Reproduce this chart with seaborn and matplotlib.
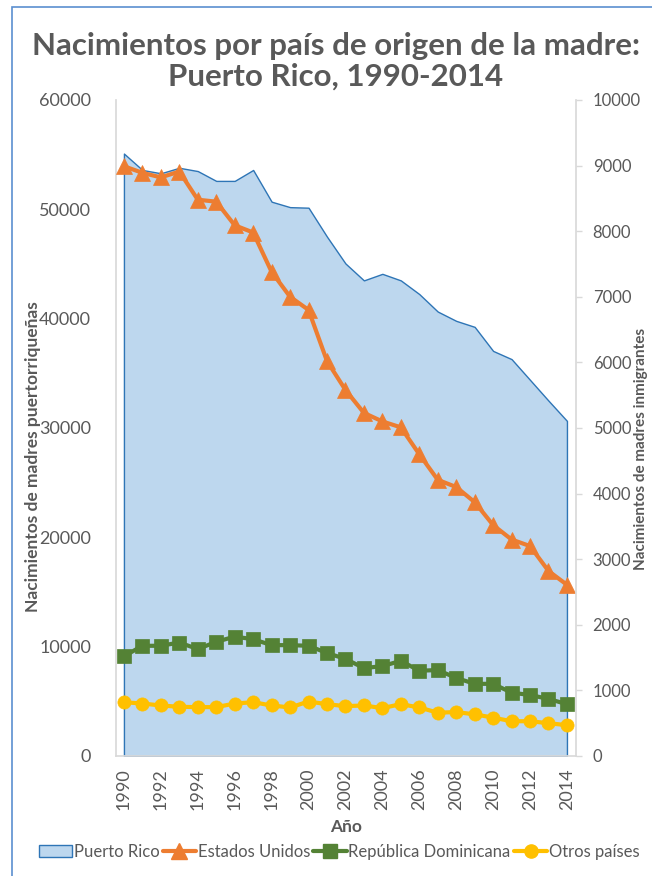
import matplotlib
matplotlib.use("Agg")
import matplotlib.pyplot as plt
import seaborn as sns
import pandas as pd
from matplotlib.patches import Patch, Rectangle
from matplotlib.lines import Line2D

years = list(range(1990, 2015))
puerto_rico = [55100, 53600, 53300, 53800, 53500, 52600, 52600, 53600, 50700, 50200,
               50150, 47500, 45050, 43500, 44100, 43500, 42250, 40650, 39800, 39250,
               37050, 36300, 34400, 32500, 30650]
estados_unidos = [8990, 8890, 8820, 8910, 8480, 8450, 8090, 7980, 7380, 7000,
                  6800, 6020, 5580, 5230, 5100, 5010, 4600, 4210, 4100, 3870,
                  3520, 3300, 3200, 2820, 2610]
rep_dominicana = [1520, 1680, 1680, 1730, 1630, 1740, 1820, 1780, 1690, 1690,
                  1680, 1570, 1480, 1340, 1370, 1450, 1300, 1310, 1190, 1100,
                  1100, 965, 930, 870, 790]
otros = [820, 800, 770, 750, 745, 745, 800, 820, 770, 740,
         830, 790, 760, 770, 730, 790, 740, 660, 670, 635,
         585, 530, 530, 500, 470]

series_names = ["Puerto Rico", "Estados Unidos", "República Dominicana", "Otros países"]
title = "Nacimientos por país de origen de la madre:\nPuerto Rico, 1990-2014"
xlabel = "Año"
ylabel_left = "Nacimientos de madres puertorriqueñas"
ylabel_right = "Nacimientos de madres inmigrantes"

df = pd.DataFrame({"year": years, "pr": puerto_rico, "us": estados_unidos,
                   "rd": rep_dominicana, "ot": otros})

sns.set_theme(style="white")
plt.rcParams["font.family"] = ["Lato", "DejaVu Sans"]

grey = "#595959"
c_area = "#BDD7EE"
c_edge = "#2E75B6"
c_us = "#ED7D31"
c_rd = "#548235"
c_ot = "#FFC000"

fig = plt.figure(figsize=(6.52, 8.76), dpi=100)
ax = fig.add_axes([116/652, 1-756/876, (576-116)/652, (756-100)/876])
ax2 = ax.twinx()

ax.fill_between(df["year"], df["pr"], 0, facecolor=c_area, edgecolor=c_edge, linewidth=1.0)
ax.set_xlim(1989.57, 2014.49)
ax.set_ylim(0, 60000)
ax.set_yticks(range(0, 60001, 10000))
ax.set_xticks(range(1990, 2015, 2))
ax.set_xticklabels([str(y) for y in range(1990, 2015, 2)], rotation=90)

sns.lineplot(data=df, x="year", y="us", ax=ax2, color=c_us, linewidth=3,
             marker="^", markersize=12, markeredgecolor=c_us, markeredgewidth=0.5)
sns.lineplot(data=df, x="year", y="rd", ax=ax2, color=c_rd, linewidth=3,
             marker="s", markersize=9.5, markeredgecolor=c_rd, markeredgewidth=0.5)
sns.lineplot(data=df, x="year", y="ot", ax=ax2, color=c_ot, linewidth=3,
             marker="o", markersize=9.5, markeredgecolor=c_ot, markeredgewidth=0.5)
ax2.set_ylim(0, 10000)
ax2.set_yticks(range(0, 10001, 1000))
ax2.set_xlim(1989.57, 2014.49)

for a in (ax, ax2):
    for s in a.spines.values():
        s.set_visible(False)
ax.spines["left"].set_visible(True)
ax.spines["left"].set_color("#D9D9D9")
ax.spines["bottom"].set_visible(True)
ax.spines["bottom"].set_color("#D9D9D9")
ax2.spines["right"].set_visible(True)
ax2.spines["right"].set_color("#D9D9D9")

ax.tick_params(axis="y", colors=grey, labelsize=13, length=0, pad=18)
ax.tick_params(axis="x", colors=grey, labelsize=13, length=0, pad=9)
ax2.tick_params(axis="y", colors=grey, labelsize=12, length=4, width=1, pad=8,
                color="#D9D9D9", direction="out")

ax.set_xlabel(xlabel, fontsize=12.5, fontweight="bold", color=grey, labelpad=6)
ax.set_ylabel(ylabel_left, fontsize=12.5, fontweight="bold", color=grey)
ax.yaxis.set_label_coords(-0.162, 0.457)
ax2.set_ylabel(ylabel_right, fontsize=11, fontweight="bold", color=grey, rotation=90)
ax2.yaxis.set_label_coords(1.127, 0.468)

fig.text(0.515, 1 - 61/876, title, ha="center", va="center", fontsize=22.5,
         fontweight="bold", color=grey, linespacing=1.1)

handles = [
    Patch(facecolor=c_area, edgecolor=c_edge, linewidth=1),
    Line2D([], [], color=c_us, linewidth=3, marker="^", markersize=12),
    Line2D([], [], color=c_rd, linewidth=3, marker="s", markersize=9.5),
    Line2D([], [], color=c_ot, linewidth=3, marker="o", markersize=9.5),
]
fig.legend(handles, series_names, loc="center", bbox_to_anchor=(0.52, 1 - 852/876),
           ncol=4, frameon=False, fontsize=12, handlelength=2.0, handletextpad=0.1,
           columnspacing=0.2, labelcolor=grey)

fig.add_artist(Rectangle((12/652, -0.1), 1.2, 1.1 - 7/876, transform=fig.transFigure,
                         fill=False, edgecolor="#5B8FD0", linewidth=1.2))

fig.savefig("out.png", dpi=100)
